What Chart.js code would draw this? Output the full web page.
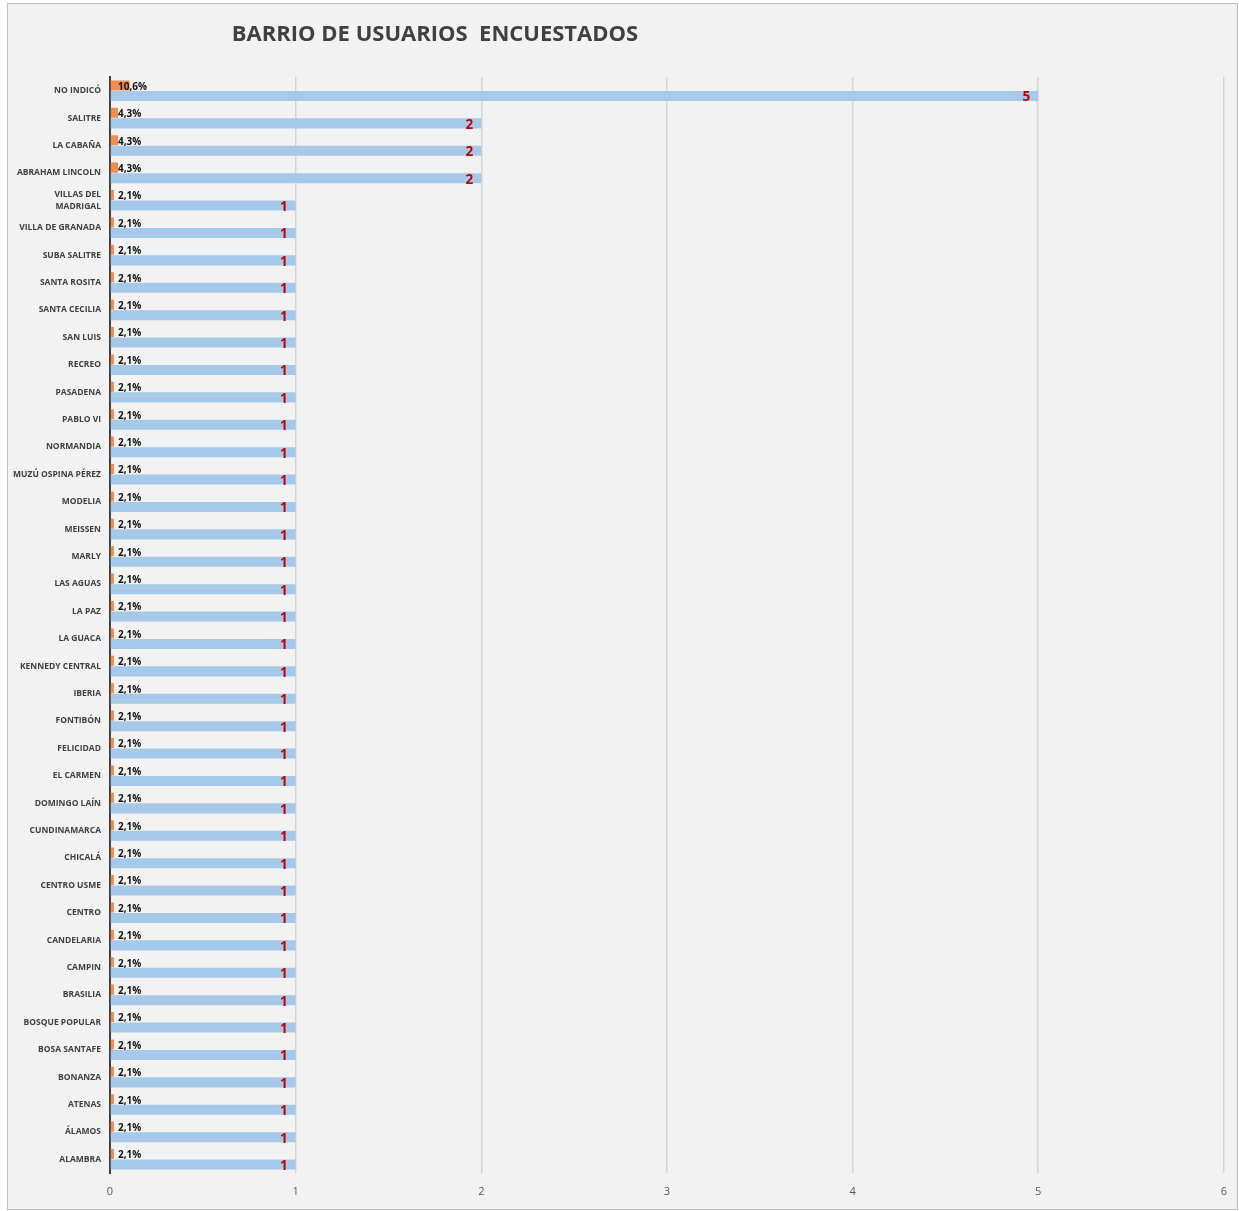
<!DOCTYPE html>
<html>
<head>
<meta charset="utf-8">
<script src="https://cdn.jsdelivr.net/npm/chart.js@4.4.1/dist/chart.umd.min.js"></script>
<style>
  html, body { margin: 0; padding: 0; background: #ffffff; }
  #wrap { position: relative; width: 1239px; height: 1211px; }
</style>
</head>
<body>
<div id="wrap"><canvas id="chart-area" width="1239" height="1211"></canvas></div>
<script>
  'use strict';

  // datos
  var barrios = [
    'NO INDICÓ', 'SALITRE', 'LA CABAÑA', 'ABRAHAM LINCOLN', ['VILLAS DEL', 'MADRIGAL'],
    'VILLA DE GRANADA', 'SUBA SALITRE', 'SANTA ROSITA', 'SANTA CECILIA', 'SAN LUIS',
    'RECREO', 'PASADENA', 'PABLO VI', 'NORMANDIA', 'MUZÚ OSPINA PÉREZ',
    'MODELIA', 'MEISSEN', 'MARLY', 'LAS AGUAS', 'LA PAZ',
    'LA GUACA', 'KENNEDY CENTRAL', 'IBERIA', 'FONTIBÓN', 'FELICIDAD',
    'EL CARMEN', 'DOMINGO LAÍN', 'CUNDINAMARCA', 'CHICALÁ', 'CENTRO USME',
    'CENTRO', 'CANDELARIA', 'CAMPIN', 'BRASILIA', 'BOSQUE POPULAR',
    'BOSA SANTAFE', 'BONANZA', 'ATENAS', 'ÁLAMOS', 'ALAMBRA'
  ];
  var cantidad = [
    5, 2, 2, 2, 1, 1, 1, 1, 1, 1,
    1, 1, 1, 1, 1, 1, 1, 1, 1, 1,
    1, 1, 1, 1, 1, 1, 1, 1, 1, 1,
    1, 1, 1, 1, 1, 1, 1, 1, 1, 1
  ];
  var porcentaje = [
    10.6, 4.3, 4.3, 4.3, 2.1, 2.1, 2.1, 2.1, 2.1, 2.1,
    2.1, 2.1, 2.1, 2.1, 2.1, 2.1, 2.1, 2.1, 2.1, 2.1,
    2.1, 2.1, 2.1, 2.1, 2.1, 2.1, 2.1, 2.1, 2.1, 2.1,
    2.1, 2.1, 2.1, 2.1, 2.1, 2.1, 2.1, 2.1, 2.1, 2.1
  ];
  var xTicks = [0, 1, 2, 3, 4, 5, 6];

  var colors = {
    orange: '#F08C4E',
    blue: '#A6C8E9',
    red: '#C00000',
    text: '#404040',
    grid: '#D4D4D4'
  };

  // fondo y marco
  var framePlugin = {
    id: 'frame',
    beforeDraw: function (chart) {
      var ctx = chart.ctx;
      ctx.save();
      ctx.fillStyle = '#F2F2F2';
      ctx.fillRect(8, 4, 1230, 1206);
      ctx.strokeStyle = '#BFBFBF';
      ctx.lineWidth = 1;
      ctx.strokeRect(7.5, 3.5, 1230, 1206);
      ctx.restore();
    },
    afterDraw: function (chart) {
      var ctx = chart.ctx;
      ctx.save();
      ctx.fillStyle = colors.text;
      ctx.font = 'bold 22px "Open Sans"';
      ctx.textAlign = 'center';
      ctx.textBaseline = 'middle';
      ctx.fillText('BARRIO DE USUARIOS  ENCUESTADOS', 435, 35);
      ctx.restore();
    }
  };

  // etiquetas de datos
  var labelsPlugin = {
    id: 'barLabels',
    afterDatasetsDraw: function (chart) {
      var ctx = chart.ctx;
      var x0 = chart.scales.x.getPixelForValue(0);
      ctx.save();
      ctx.textBaseline = 'middle';
      chart.getDatasetMeta(0).data.forEach(function (bar, i) {
        ctx.fillStyle = '#111111';
        ctx.font = 'bold 10px "Open Sans"';
        ctx.textAlign = 'left';
        ctx.fillText(porcentaje[i].toFixed(1).replace('.', ',') + '%', x0 + 8, bar.y + 1.5);
      });
      chart.getDatasetMeta(1).data.forEach(function (bar, i) {
        ctx.fillStyle = colors.red;
        ctx.font = 'bold 13.5px "Open Sans"';
        ctx.textAlign = 'right';
        ctx.fillText(String(cantidad[i]), bar.x - 8, bar.y + 1.5);
      });
      ctx.restore();
    }
  };

  var ctx = document.getElementById('chart-area').getContext('2d');
  window.myBar = new Chart(ctx, {
    type: 'bar',
    data: {
      labels: barrios,
      datasets: [
        {
          label: 'Porcentaje',
          data: porcentaje.map(function (p) { return p / 100; }),
          backgroundColor: colors.orange,
          categoryPercentage: 0.77,
          barPercentage: 0.95
        },
        {
          label: 'Cantidad',
          data: cantidad,
          backgroundColor: colors.blue,
          categoryPercentage: 0.77,
          barPercentage: 0.95
        }
      ]
    },
    options: {
      indexAxis: 'y',
      responsive: false,
      animation: false,
      layout: { padding: { left: 0, right: 15, top: 77, bottom: 0 } },
      plugins: {
        legend: { display: false },
        title: { display: false },
        tooltip: { enabled: false }
      },
      scales: {
        x: {
          min: 0,
          max: 6,
          afterBuildTicks: function (scale) {
            scale.ticks = xTicks.map(function (v) { return { value: v }; });
          },
          afterFit: function (scale) { scale.height = 38; },
          grid: { color: colors.grid, lineWidth: 1.5, drawTicks: false },
          border: { display: false },
          ticks: {
            color: '#595959',
            font: { family: '"Open Sans"', size: 11 },
            padding: 12,
            maxRotation: 0
          }
        },
        y: {
          afterFit: function (scale) { scale.width = 110; },
          grid: { display: false, drawTicks: false },
          border: { display: true, color: '#404040', width: 2 },
          ticks: {
            color: colors.text,
            font: { family: '"Open Sans"', size: 8.5, weight: 'bold', lineHeight: 1.45 },
            padding: 9,
            autoSkip: false
          }
        }
      }
    },
    plugins: [framePlugin, labelsPlugin]
  });
</script>
</body>
</html>
